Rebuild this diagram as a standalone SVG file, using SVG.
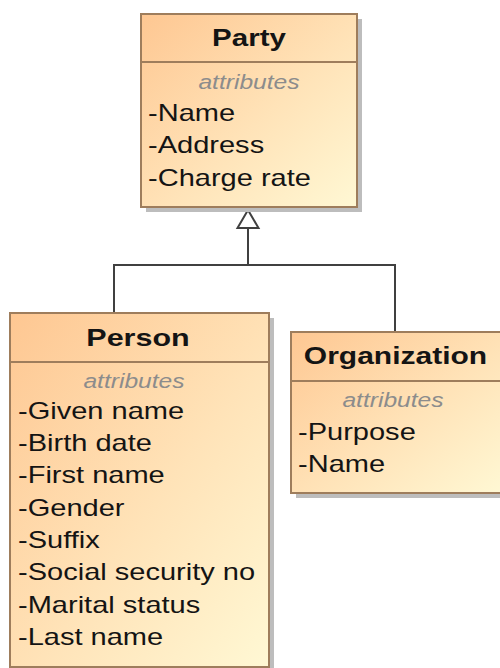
<svg xmlns="http://www.w3.org/2000/svg" width="500" height="668" viewBox="0 0 500 668">
  <defs>
    <linearGradient id="classFill" x1="0" y1="0" x2="1" y2="1">
      <stop offset="0" stop-color="#FEC792"/>
      <stop offset="0.55" stop-color="#FFE3B8"/>
      <stop offset="1" stop-color="#FFF8D4"/>
    </linearGradient>
    <style>
      .shadow { fill: #BDBDBD; }
      .box { fill: url(#classFill); stroke: #9E7D5C; stroke-width: 2; }
      .sep { stroke: #9E7D5C; stroke-width: 2; }
      .title { font-family: "Liberation Sans", Arial, sans-serif; font-weight: bold; font-size: 24px; fill: #141414; text-anchor: middle; }
      .stereo { font-family: "Liberation Sans", Arial, sans-serif; font-style: italic; font-size: 20px; fill: #8C8C8C; text-anchor: middle; }
      .attr { font-family: "Liberation Sans", Arial, sans-serif; font-size: 24px; fill: #141414; }
      .edge { fill: none; stroke: #404040; stroke-width: 2; }
      .head { fill: #FFFFFF; stroke: #404040; stroke-width: 2; stroke-linejoin: miter; }
    </style>
  </defs>

  <rect width="500" height="668" fill="#FFFFFF"/>

  <!-- generalization connectors -->
  <g id="connectors">
    <polyline class="edge" points="114,313 114,265 395,265 395,332"/>
    <line class="edge" x1="248" y1="228" x2="248" y2="265"/>
    <polygon class="head" points="248,210 237.5,228 258.5,228"/>
  </g>

  <!-- Party -->
  <g id="party">
    <rect class="shadow" x="146" y="19" width="216" height="193"/>
    <rect class="box" x="141" y="14" width="216" height="193"/>
    <line class="sep" x1="141" y1="62" x2="357" y2="62"/>
    <g transform="translate(249 0) scale(1.23 1)">
      <text class="title" x="0" y="46">Party</text>
      <text class="stereo" x="0" y="89">attributes</text>
    </g>
    <g transform="translate(148 0) scale(1.21 1)">
      <text class="attr" x="0" y="121">-Name</text>
      <text class="attr" x="0" y="153.5">-Address</text>
      <text class="attr" x="0" y="186">-Charge rate</text>
    </g>
  </g>

  <!-- Person -->
  <g id="person">
    <rect class="shadow" x="15" y="318" width="259" height="354"/>
    <rect class="box" x="10" y="313" width="259" height="354"/>
    <line class="sep" x1="10" y1="362" x2="269" y2="362"/>
    <g transform="translate(138 0) scale(1.27 1)">
      <text class="title" x="0" y="346">Person</text>
    </g>
    <g transform="translate(134 0) scale(1.23 1)">
      <text class="stereo" x="0" y="388">attributes</text>
    </g>
    <g transform="translate(18 0) scale(1.21 1)">
      <text class="attr" x="0" y="419">-Given name</text>
      <text class="attr" x="0" y="451">-Birth date</text>
      <text class="attr" x="0" y="483.5">-First name</text>
      <text class="attr" x="0" y="516">-Gender</text>
      <text class="attr" x="0" y="548">-Suffix</text>
      <text class="attr" x="0" y="580.5">-Social security no</text>
      <text class="attr" x="0" y="613">-Marital status</text>
      <text class="attr" x="0" y="645">-Last name</text>
    </g>
  </g>

  <!-- Organization -->
  <g id="organization">
    <rect class="shadow" x="296" y="337" width="212" height="161"/>
    <rect class="box" x="291" y="332" width="212" height="161"/>
    <line class="sep" x1="291" y1="381" x2="503" y2="381"/>
    <g transform="translate(395.5 0) scale(1.25 1)">
      <text class="title" x="0" y="364">Organization</text>
    </g>
    <g transform="translate(393 0) scale(1.23 1)">
      <text class="stereo" x="0" y="407">attributes</text>
    </g>
    <g transform="translate(298 0) scale(1.21 1)">
      <text class="attr" x="0" y="440">-Purpose</text>
      <text class="attr" x="0" y="472">-Name</text>
    </g>
  </g>
</svg>
